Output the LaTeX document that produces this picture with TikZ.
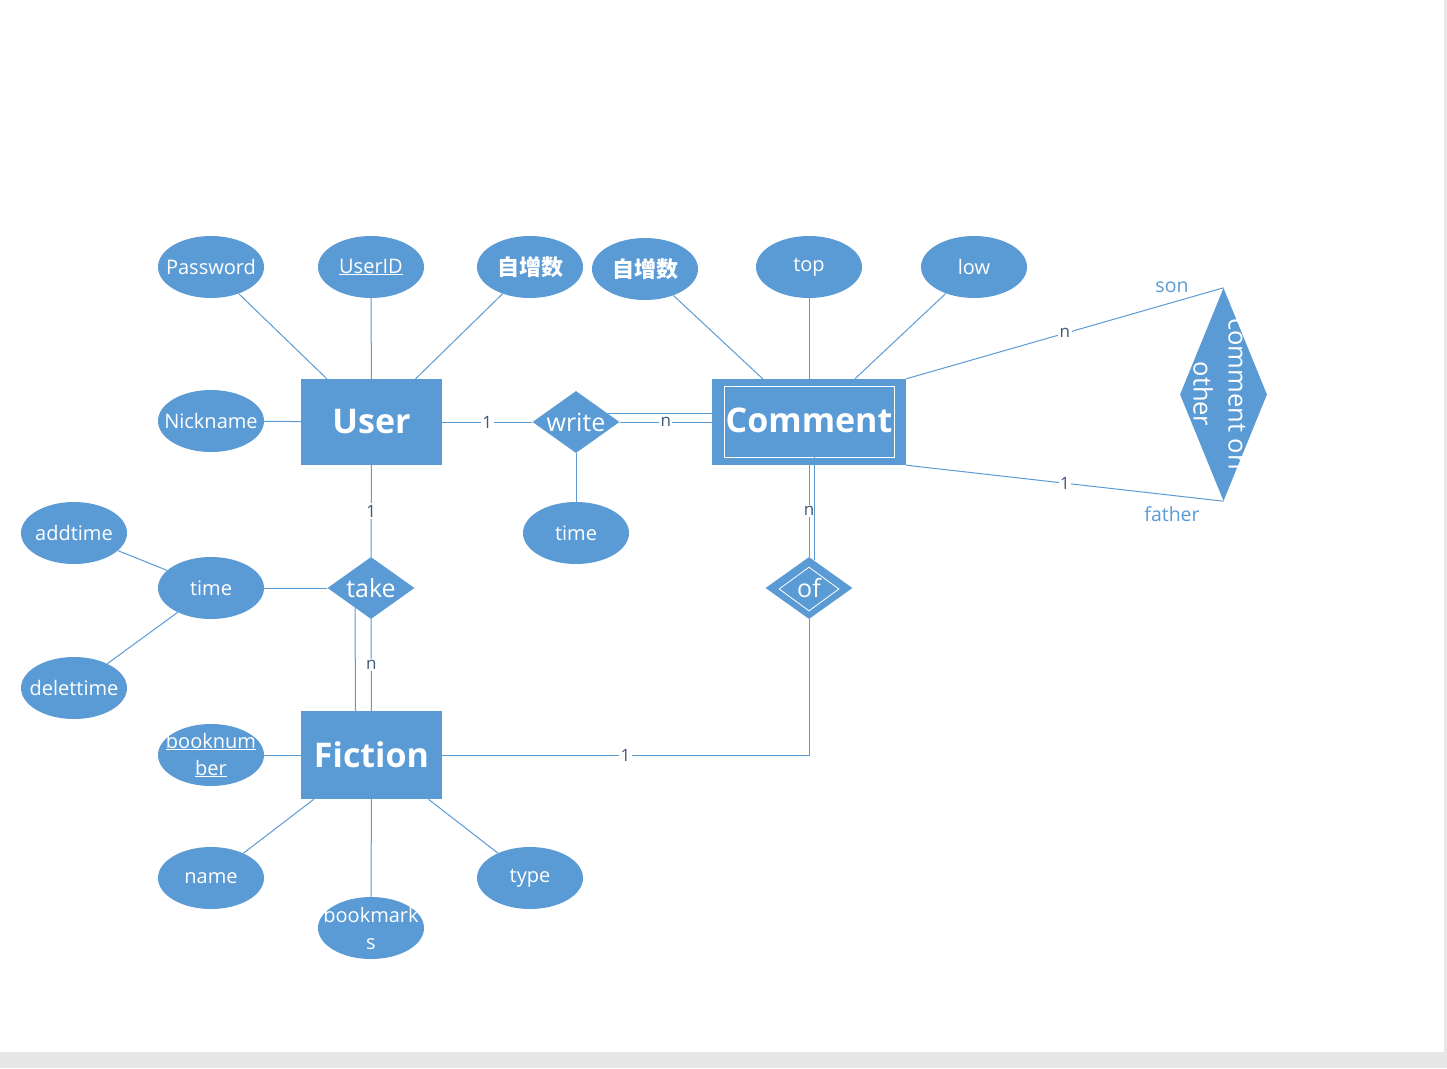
\documentclass[tikz,border=0pt]{standalone}
\usepackage{fontspec}
\setmainfont{Open Sans}
\newfontfamily\cjk{Noto Sans CJK SC}
\usetikzlibrary{shapes.geometric}
\definecolor{erblue}{HTML}{5B9BD5}
\definecolor{erlab}{HTML}{3F5878}
\definecolor{pagegray}{HTML}{E7E7E7}
\begin{document}
\begin{tikzpicture}[x=1pt,y=-1pt,
  attr/.style={ellipse, fill=erblue, minimum width=106pt, minimum height=62pt, inner sep=0pt,
    label={[attrlab]center:{#1}}},
  attrlab/.style={text=white, font=\fontsize{20}{27}\selectfont, align=center, inner sep=0pt},
  cjklab/.style={text=white, font=\cjk\bfseries\fontsize{22}{26}\selectfont, inner sep=0pt},
  ent/.style={rectangle, fill=erblue, text=white, inner sep=0pt,
    font=\bfseries\fontsize{34}{40}\selectfont},
  rel/.style={diamond, fill=erblue, minimum width=87pt, minimum height=62pt, inner sep=0pt},
  rellab/.style={text=white, font=\fontsize{25}{30}\selectfont},
  conn/.style={draw=erblue, line width=1pt},
  card/.style={fill=white, text=erlab, inner sep=1.5pt, font=\fontsize{17}{20}\selectfont},
  role/.style={text=erblue, font=\fontsize{19.5}{22}\selectfont},
]
\useasboundingbox (0,0) rectangle (1447,1068);
\fill[pagegray] (0,0) rectangle (1447,1068);
\fill[white] (0,0) rectangle (1444,1052);

% attributes
\node[attr={Password}] (pw)   at (211,267) {};
\node[attr={\underline{UserID}}] (uid)  at (371,267) {};
\node[attr={}, label={[cjklab]center:自增数}] (zz1) at (530,267) {};
\node[attr={}, label={[cjklab]center:自增数}] (zz2) at (645,269) {};
\node[attr={top}] (top)  at (809,267) {};
\node[attr={low}] (low)  at (974,267) {};
\node[attr={Nickname}] (nick) at (211,421) {};
\node[attr={time}] (wtime) at (576,533) {};
\node[attr={time}] (ttime) at (211,588) {};
\node[attr={addtime}] (addt) at (74,533) {};
\node[attr={delettime}] (delt) at (74,688) {};
\node[attr={\underline{booknum}\\\underline{ber}}] (bnum) at (211,755) {};
\node[attr={name}] (bname) at (211,878) {};
\node[attr={bookmark\\s}] (bmark) at (371,928) {};
\node[attr={type}] (btype) at (530,878) {};

% entities
\node[ent, minimum width=141pt, minimum height=86pt] (user) at (371.5,422) {User};
\node[ent, minimum width=194pt, minimum height=86pt] (comment) at (809,422) {};
\node[draw=white, line width=0.8pt, minimum width=170pt, minimum height=71pt, inner sep=0pt] (commentin) at (809,421.5) {};
\node[text=white, font=\bfseries\fontsize{34}{40}\selectfont] (commentlab) at (809,420) {Comment};
\node[ent, minimum width=141pt, minimum height=88pt] (fiction) at (371.5,755) {Fiction};

% relationships
\node[rel, label={[rellab]center:write}] (write) at (576,422) {};
\node[rel, label={[rellab]center:take}] (take) at (371,588) {};
\node[rel, label={[rellab]center:of}] (of) at (809,588) {};
\node[diamond, draw=white, line width=0.8pt, minimum width=60pt, minimum height=44pt, inner sep=0pt] (ofin) at (809,589) {};
\node[diamond, fill=erblue, minimum width=87pt, minimum height=213pt, inner sep=0pt] (coo) at (1223.5,394.5) {};
\begin{scope}
  \clip (coo.north) -- (coo.east) -- (coo.south) -- (coo.west) -- cycle;
  \node[rotate=-90, text=white, font=\fontsize{25.5}{35}\selectfont, align=center] (coolab) at (1219.5,394) {comment on\\other};
\end{scope}

% attribute links
\draw[conn] (pw) -- (user);
\draw[conn] (uid) -- (user);
\draw[conn] (zz1) -- (user);
\draw[conn] (nick) -- (user);
\draw[conn] (zz2) -- (comment);
\draw[conn] (top) -- (comment);
\draw[conn] (low) -- (comment);
\draw[conn] (write) -- (wtime);
\draw[conn] (ttime) -- (take);
\draw[conn] (addt) -- (ttime);
\draw[conn] (delt) -- (ttime);
\draw[conn] (bnum) -- (fiction);
\draw[conn] (bname) -- (fiction);
\draw[conn] (bmark) -- (fiction);
\draw[conn] (btype) -- (fiction);

% relationship links
\draw[conn] (user) -- node[card]{1} (write);
\draw[conn] (write) -- node[card]{n} (comment);
\draw[conn] ([xshift=-12.6pt,yshift=9pt]write.east) -- ([yshift=9pt]comment.west);
\draw[conn] (user) -- node[card]{1} (take);
\draw[conn] (take) -- node[card]{n} (fiction);
\draw[conn] ([xshift=-16pt,yshift=-19.4pt]take.center) -- ([xshift=-16pt]fiction.north);
\draw[conn] (comment) -- node[card]{n} (of);
\draw[conn] ([xshift=5pt]commentin.south) -- ([xshift=5pt,yshift=-3.6pt]of.north);
\draw[conn] (fiction) -- node[card]{1} (fiction -| of) -- (of);
\draw[conn] (comment.north east) -- node[card]{n} (coo.north);
\draw[conn] (comment.south east) -- node[card]{1} (coo.south);

\node[role] (son) at (1172,287) {son};
\node[role] (father) at (1172,514) {father};
\end{tikzpicture}
\end{document}
